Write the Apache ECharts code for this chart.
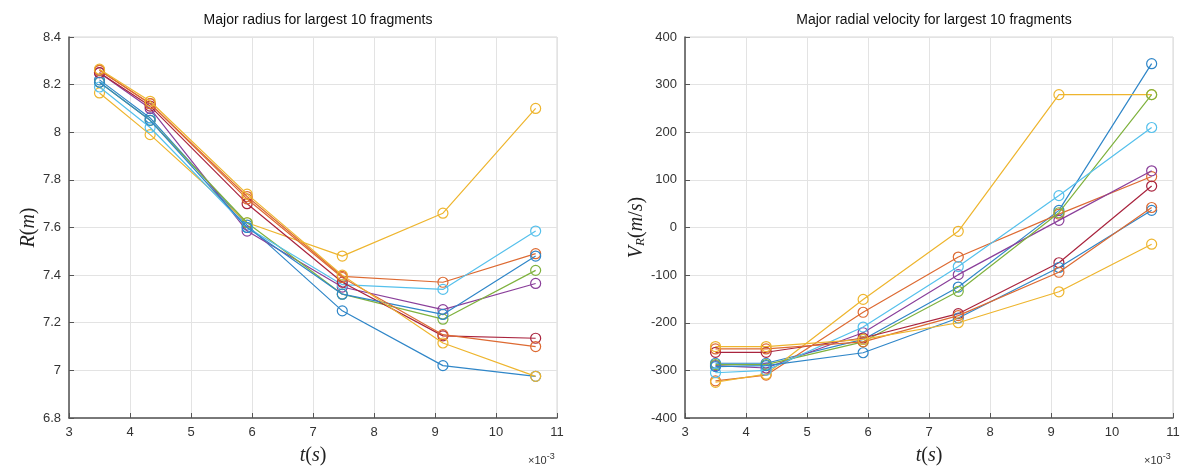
<!DOCTYPE html>
<html>
<head>
<meta charset="utf-8">
<script src="https://cdn.jsdelivr.net/npm/echarts@6/dist/echarts.min.js"></script>
<style>
  html, body { margin: 0; padding: 0; background: #fff; }
  #chart { width: 1184px; height: 471px; }
</style>
</head>
<body>
<div id="chart"></div>
<script>
// time samples (x 10^-3 s)
var times = [3.5, 4.33, 5.92, 7.48, 9.13, 10.65];

// MATLAB default colour order, washed a little like the picture
var colors = ['#2f86c8', '#dd6a32', '#eeb52e', '#8a3f9a', '#7fb23e',
              '#55c0ec', '#a9243e', '#2f86c8', '#dd6a32', '#eeb52e'];

// major radius R (m), one array per fragment
var radius1 = [8.22, 8.06, 7.61, 7.25, 7.02, 6.975];
var radius2 = [8.26, 8.12, 7.73, 7.395, 7.37, 7.49];
var radius3 = [8.165, 7.99, 7.62, 7.48, 7.66, 8.10];
var radius4 = [8.25, 8.10, 7.585, 7.35, 7.255, 7.365];
var radius5 = [8.21, 8.05, 7.62, 7.32, 7.215, 7.42];
var radius6 = [8.19, 8.02, 7.60, 7.36, 7.34, 7.585];
var radius7 = [8.25, 8.11, 7.70, 7.37, 7.145, 7.135];
var radius8 = [8.21, 8.05, 7.60, 7.32, 7.235, 7.48];
var radius9 = [8.26, 8.12, 7.72, 7.39, 7.15, 7.10];
var radius10 = [8.265, 8.13, 7.74, 7.40, 7.115, 6.975];

// major radial velocity V_R (m/s)
var vel1 = [-285, -285, -235, -125, 36, 344];
var vel2 = [-322, -310, -178, -62, 28, 107];
var vel3 = [-325, -308, -151, -8, 279, 279];
var vel4 = [-290, -295, -221, -99, 15, 119];
var vel5 = [-288, -288, -240, -134, 31, 279];
var vel6 = [-305, -300, -209, -82, 67, 210];
var vel7 = [-262, -262, -232, -181, -74, 87];
var vel8 = [-292, -290, -263, -190, -84, 36];
var vel9 = [-255, -255, -240, -185, -94, 42];
var vel10 = [-250, -250, -235, -200, -135, -35];

var radiusSets = [radius1, radius2, radius3, radius4, radius5, radius6, radius7, radius8, radius9, radius10];
var velSets = [vel1, vel2, vel3, vel4, vel5, vel6, vel7, vel8, vel9, vel10];

var xTicks = [3, 11, 1];
var rTicks = [6.8, 8.4, 0.2];
var vTicks = [-400, 400, 100];

var chart = echarts.init(document.getElementById('chart'));

function pairs(ys) {
    return times.map(function (t, i) { return [t, ys[i]]; });
}

function makeSeries(sets, idx) {
    return sets.map(function (ys, k) {
        return {
            type: 'line',
            xAxisIndex: idx,
            yAxisIndex: idx,
            data: pairs(ys),
            symbol: 'circle',
            symbolSize: 10,
            lineStyle: { width: 1.2, color: colors[k] },
            // open circles, the line shows through like matlab 'o'
            itemStyle: { color: 'rgba(0,0,0,0)', borderColor: colors[k], borderWidth: 1.2 },
            emphasis: { disabled: true },
            animation: false,
            z: 3 + k
        };
    });
}

function xAxis(idx) {
    return {
        type: 'value', gridIndex: idx,
        min: xTicks[0], max: xTicks[1], interval: xTicks[2],
        name: '{i|t}{n|(}{i|s}{n|)}',
        nameLocation: 'middle', nameGap: 28,
        nameTextStyle: {
            rich: {
                i: { fontFamily: 'Liberation Serif', fontStyle: 'italic', fontSize: 20, color: '#222' },
                n: { fontFamily: 'Liberation Serif', fontSize: 20, color: '#222' }
            }
        },
        axisLine: { show: true, onZero: false, lineStyle: { color: '#555', width: 1.5 } },
        axisTick: { show: true, inside: true, length: 5, lineStyle: { color: '#555' } },
        axisLabel: { color: '#333', fontSize: 13, fontFamily: 'Liberation Sans', margin: 8 },
        splitLine: { show: true, lineStyle: { color: '#e3e3e3', width: 1 } }
    };
}

function yAxis(idx, ticks, name, gap, rich, digits) {
    return {
        type: 'value', gridIndex: idx,
        min: ticks[0], max: ticks[1], interval: ticks[2],
        name: name,
        nameLocation: 'middle', nameGap: gap, nameRotate: 90,
        nameTextStyle: { rich: rich },
        axisLine: { show: true, onZero: false, lineStyle: { color: '#555', width: 1.5 } },
        axisTick: { show: true, inside: true, length: 5, lineStyle: { color: '#555' } },
        axisLabel: {
            color: '#333', fontSize: 13, fontFamily: 'Liberation Sans', margin: 8,
            formatter: function (v) { return String(+v.toFixed(digits)); }
        },
        splitLine: { show: true, lineStyle: { color: '#e3e3e3', width: 1 } }
    };
}

var richR = {
    i: { fontFamily: 'Liberation Serif', fontStyle: 'italic', fontSize: 20, color: '#222' },
    n: { fontFamily: 'Liberation Serif', fontSize: 20, color: '#222' }
};
var richV = {
    i: { fontFamily: 'Liberation Serif', fontStyle: 'italic', fontSize: 20, color: '#222' },
    n: { fontFamily: 'Liberation Serif', fontSize: 20, color: '#222' },
    s: { fontFamily: 'Liberation Serif', fontStyle: 'italic', fontSize: 13, color: '#222', verticalAlign: 'bottom', padding: [8, 0, 0, 0] }
};

var option = {
    backgroundColor: '#fff',
    animation: false,
    title: [
        { text: 'Major radius for largest 10 fragments', left: 313, top: 8, textAlign: 'center',
          textStyle: { fontSize: 14, fontWeight: 'normal', color: '#111', fontFamily: 'Liberation Sans' } },
        { text: 'Major radial velocity for largest 10 fragments', left: 929, top: 8, textAlign: 'center',
          textStyle: { fontSize: 14, fontWeight: 'normal', color: '#111', fontFamily: 'Liberation Sans' } }
    ],
    grid: [
        { left: 69, right: 627, top: 37, bottom: 51, show: true, borderColor: '#d6d6d6', borderWidth: 1 },
        { left: 685, right: 11, top: 37, bottom: 51, show: true, borderColor: '#d6d6d6', borderWidth: 1 }
    ],
    xAxis: [xAxis(0), xAxis(1)],
    yAxis: [
        yAxis(0, rTicks, '{i|R}{n|(}{i|m}{n|)}', 30, richR, 1),
        yAxis(1, vTicks, '{i|V}{s|R}{n|(}{i|m}{n|/}{i|s}{n|)}', 32, richV, 0)
    ],
    graphic: [
        { type: 'text', left: 528, top: 452,
          style: { text: '×10{sup|-3}', fontSize: 11, fill: '#333', fontFamily: 'Liberation Sans',
                   rich: { sup: { fontSize: 9, verticalAlign: 'top', padding: [0, 0, 8, 0] } } } },
        { type: 'text', left: 1144, top: 452,
          style: { text: '×10{sup|-3}', fontSize: 11, fill: '#333', fontFamily: 'Liberation Sans',
                   rich: { sup: { fontSize: 9, verticalAlign: 'top', padding: [0, 0, 8, 0] } } } }
    ],
    series: makeSeries(radiusSets, 0).concat(makeSeries(velSets, 1))
};

chart.setOption(option);
</script>
</body>
</html>
